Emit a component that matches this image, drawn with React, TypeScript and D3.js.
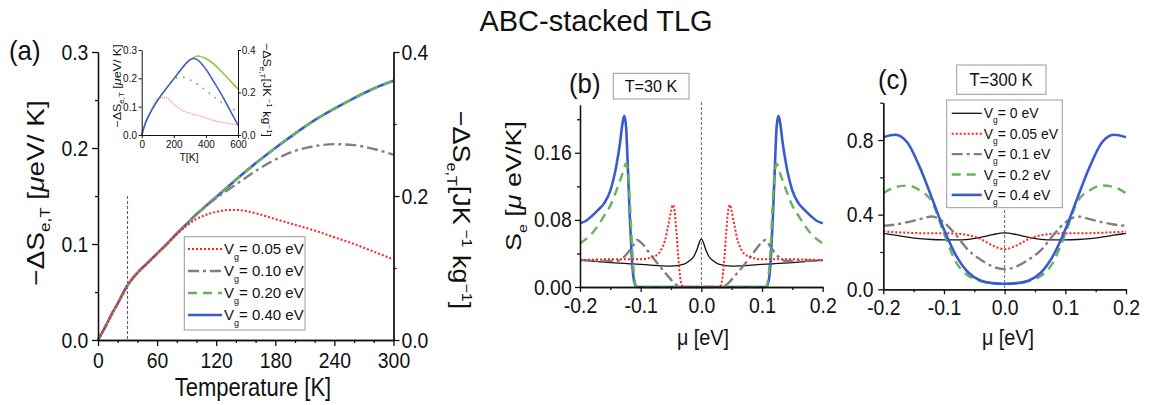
import React, { useEffect, useRef } from "react";
import * as d3 from "d3";

const FONT = "'Liberation Sans', Arial, Helvetica, sans-serif";

// ---------- panel (a): -dS_eT vs temperature
const tempK = [0, 3, 6, 10, 15, 20, 30, 40, 50, 60, 70, 80, 90, 100, 110, 120, 130, 140, 160, 180, 200, 220, 240, 260, 280, 300];
const aVg040 = [0, 0.0055, 0.011, 0.019, 0.029, 0.038, 0.057, 0.07, 0.08, 0.09, 0.1, 0.111, 0.121, 0.131, 0.14, 0.149, 0.158, 0.167, 0.184, 0.2, 0.215, 0.229, 0.241, 0.252, 0.262, 0.27];
const aVg020 = [0, 0.0055, 0.011, 0.019, 0.029, 0.038, 0.057, 0.07, 0.08, 0.09, 0.1, 0.111, 0.121, 0.131, 0.14, 0.149, 0.158, 0.167, 0.184, 0.2, 0.215, 0.229, 0.241, 0.252, 0.262, 0.27];
const aVg010 = [0, 0.0055, 0.011, 0.019, 0.029, 0.038, 0.057, 0.07, 0.08, 0.09, 0.1, 0.111, 0.121, 0.131, 0.14, 0.148, 0.155, 0.162, 0.176, 0.188, 0.197, 0.202, 0.204, 0.203, 0.199, 0.193];
const aVg005 = [0, 0.0055, 0.011, 0.019, 0.029, 0.038, 0.057, 0.07, 0.08, 0.09, 0.1, 0.11, 0.119, 0.126, 0.1305, 0.1335, 0.1352, 0.1355, 0.132, 0.126, 0.12, 0.114, 0.107, 0.1, 0.092, 0.084];
const aLegend = ["0.05", "0.10", "0.20", "0.40"];

// inset of (a), T up to 600 K
const insetT = [0, 25, 50, 100, 150, 200, 250, 300, 325, 350, 400, 450, 500, 550, 600];
const inBlue = [0, 0.045, 0.075, 0.123, 0.162, 0.198, 0.235, 0.265, 0.27, 0.264, 0.232, 0.187, 0.14, 0.088, 0.035];
const inGreen = [0, 0.045, 0.075, 0.123, 0.162, 0.198, 0.235, 0.265, 0.274, 0.279, 0.27, 0.25, 0.222, 0.192, 0.162];
const inGray = [0, 0.045, 0.075, 0.123, 0.162, 0.198, 0.205, 0.195, 0.187, 0.178, 0.157, 0.135, 0.113, 0.097, 0.082];
const inRed = [0, 0.045, 0.075, 0.128, 0.132, 0.108, 0.088, 0.077, 0.073, 0.07, 0.06, 0.051, 0.045, 0.04, 0.035];

// ---------- panel (b): S_e vs mu at T=30 K  ([mu, S])
const bVg0 = [[-0.2, 0.032], [-0.15, 0.029], [-0.1, 0.027], [-0.05, 0.025], [-0.03, 0.027], [-0.02, 0.031], [-0.012, 0.037], [-0.006, 0.047], [-0.003, 0.054], [0, 0.057], [0.003, 0.054], [0.006, 0.047], [0.012, 0.037], [0.02, 0.031], [0.03, 0.027], [0.05, 0.025], [0.1, 0.027], [0.15, 0.029], [0.2, 0.032]];
const bVg005 = [[-0.2, 0.032], [-0.15, 0.033], [-0.1, 0.033], [-0.08, 0.036], [-0.07, 0.04], [-0.065, 0.046], [-0.06, 0.055], [-0.055, 0.072], [-0.05, 0.09], [-0.047, 0.098], [-0.044, 0.09], [-0.041, 0.065], [-0.038, 0.035], [-0.035, 0.012], [-0.032, 0.002], [-0.03, 0], [0.03, 0], [0.032, 0.002], [0.035, 0.012], [0.038, 0.035], [0.041, 0.065], [0.044, 0.09], [0.047, 0.098], [0.05, 0.09], [0.055, 0.072], [0.06, 0.055], [0.065, 0.046], [0.07, 0.04], [0.08, 0.036], [0.1, 0.033], [0.15, 0.033], [0.2, 0.032]];
const bVg01 = [[-0.2, 0.032], [-0.14, 0.031], [-0.13, 0.034], [-0.12, 0.042], [-0.112, 0.05], [-0.106, 0.056], [-0.098, 0.052], [-0.085, 0.04], [-0.07, 0.026], [-0.055, 0.013], [-0.045, 0.005], [-0.038, 0.001], [-0.035, 0], [0.035, 0], [0.038, 0.001], [0.045, 0.005], [0.055, 0.013], [0.07, 0.026], [0.085, 0.04], [0.098, 0.052], [0.106, 0.056], [0.112, 0.05], [0.12, 0.042], [0.13, 0.034], [0.14, 0.031], [0.2, 0.032]];
const bVg02 = [[-0.2, 0.052], [-0.18, 0.064], [-0.16, 0.085], [-0.15, 0.097], [-0.14, 0.115], [-0.13, 0.135], [-0.124, 0.147], [-0.12, 0.13], [-0.117, 0.09], [-0.114, 0.045], [-0.111, 0.015], [-0.108, 0.002], [-0.105, 0], [0.105, 0], [0.108, 0.002], [0.111, 0.015], [0.114, 0.045], [0.117, 0.09], [0.12, 0.13], [0.124, 0.147], [0.13, 0.135], [0.14, 0.115], [0.15, 0.097], [0.16, 0.085], [0.18, 0.064], [0.2, 0.052]];
const bVg04 = [[-0.2, 0.076], [-0.19, 0.079], [-0.18, 0.085], [-0.17, 0.092], [-0.16, 0.1], [-0.15, 0.115], [-0.14, 0.145], [-0.134, 0.172], [-0.13, 0.195], [-0.127, 0.204], [-0.124, 0.19], [-0.121, 0.14], [-0.118, 0.085], [-0.115, 0.04], [-0.112, 0.012], [-0.108, 0.001], [-0.105, 0], [0.105, 0], [0.108, 0.001], [0.112, 0.012], [0.115, 0.04], [0.118, 0.085], [0.121, 0.14], [0.124, 0.19], [0.127, 0.204], [0.13, 0.195], [0.134, 0.172], [0.14, 0.145], [0.15, 0.115], [0.16, 0.1], [0.17, 0.092], [0.18, 0.085], [0.19, 0.079], [0.2, 0.076]];

// ---------- panel (c): S_e vs mu at T=300 K
const cMu = [-0.2, -0.18, -0.16, -0.14, -0.12, -0.1, -0.08, -0.06, -0.04, -0.02, 0, 0.02, 0.04, 0.06, 0.08, 0.1, 0.12, 0.14, 0.16, 0.18, 0.2];
const cVg0 = [0.3, 0.29, 0.28, 0.272, 0.267, 0.265, 0.265, 0.268, 0.278, 0.293, 0.302, 0.293, 0.278, 0.268, 0.265, 0.265, 0.267, 0.272, 0.28, 0.29, 0.3];
const cVg005 = [0.31, 0.306, 0.303, 0.301, 0.3, 0.3, 0.298, 0.29, 0.27, 0.235, 0.215, 0.235, 0.27, 0.29, 0.298, 0.3, 0.3, 0.301, 0.303, 0.306, 0.31];
const cVg01 = [0.34, 0.347, 0.36, 0.376, 0.39, 0.358, 0.29, 0.21, 0.16, 0.123, 0.108, 0.123, 0.16, 0.21, 0.29, 0.358, 0.39, 0.376, 0.36, 0.347, 0.34];
const cVg02 = [0.515, 0.548, 0.556, 0.53, 0.47, 0.3, 0.145, 0.072, 0.045, 0.032, 0.028, 0.032, 0.045, 0.072, 0.145, 0.3, 0.47, 0.53, 0.556, 0.548, 0.515];
const cVg04 = [0.815, 0.828, 0.785, 0.655, 0.49, 0.32, 0.18, 0.09, 0.047, 0.033, 0.03, 0.033, 0.047, 0.09, 0.18, 0.32, 0.49, 0.655, 0.785, 0.828, 0.815];
const cLegend = ["0", "0.05", "0.1", "0.2", "0.4"];

// line styles
const BLACK = { color: "#111", dash: "", width: 1.3 };
const RED = { color: "#ff2020", dash: "2,2", width: 2 };
const GRAY = { color: "#808080", dash: "11,4,3,4", width: 2.4 };
const GREEN = { color: "#66b35a", dash: "9,6", width: 2.4 };
const BLUE = { color: "#3a5bd0", dash: "", width: 2.6 };

type Sty = { color: string; dash: string; width: number };

function Axis(p: any) {
  const ref = useRef<SVGGElement>(null);
  useEffect(() => {
    const g = d3.select(ref.current as SVGGElement);
    g.selectAll("*").remove();
    const make = p.orient === "left" ? d3.axisLeft : p.orient === "right" ? d3.axisRight : d3.axisBottom;
    if (p.minor) {
      g.append("g").call(make(p.scale).tickValues(p.minor).tickSize(p.minorTick ?? 3).tickSizeOuter(0).tickFormat(() => "") as any);
    }
    const m = g.append("g").call(
      make(p.scale).tickValues(p.major).tickSize(p.tick ?? 6).tickSizeOuter(0).tickPadding(p.pad ?? 3)
        .tickFormat(p.fmt ?? ((d: any) => String(d))) as any
    );
    g.selectAll("g").attr("font-family", FONT).attr("font-size", p.size ?? 22);
    m.selectAll("text").attr("fill", "#111").attr("transform", `scale(${p.sx ?? 1},1)`);
    g.selectAll("path,line").attr("stroke", "#111").attr("stroke-width", p.sw ?? 1.3);
  });
  return <g ref={ref} transform={`translate(${p.x ?? 0},${p.y ?? 0})`} />;
}

function Curve({ pts, xs, ys, sty }: { pts: number[][]; xs: any; ys: any; sty: Sty }) {
  const line = d3.line<number[]>().x((d) => xs(d[0])).y((d) => ys(d[1])).curve(d3.curveMonotoneX);
  return <path d={line(pts) || ""} fill="none" stroke={sty.color} strokeWidth={sty.width} strokeDasharray={sty.dash || undefined} />;
}

function Sq({ x, y, sx = 0.88, rot = 0, size, anchor = "start", children }: any) {
  return (
    <g transform={`translate(${x},${y}) scale(${sx},1) rotate(${rot})`}>
      <text textAnchor={anchor} fontSize={size} fontFamily={FONT} fill="#111">{children}</text>
    </g>
  );
}

function LegendRow({ x, y, sty, label, size, len }: any) {
  return (
    <g>
      <line x1={x} x2={x + len} y1={y} y2={y} stroke={sty.color} strokeWidth={sty.width} strokeDasharray={sty.dash || undefined} />
      <text x={x + len + 2} y={y + size * 0.36} fontSize={size} fontFamily={FONT} fill="#111">
        V<tspan dy={size * 0.35} fontSize={size * 0.6}>g</tspan><tspan dy={-size * 0.35}>= {label} eV</tspan>
      </text>
    </g>
  );
}

// plain hyphen for negatives, as in the figure
const f1 = (d: number) => d3.format(".1f")(d).replace("−", "-");
const f2 = (d: number) => d3.format(".2f")(d).replace("−", "-");

export default function App() {
  // panel (a) scales
  const ax = d3.scaleLinear().domain([0, 300]).range([98, 393.5]);
  const ayL = d3.scaleLinear().domain([0, 0.3]).range([340, 52]);
  const ayR = d3.scaleLinear().domain([0, 0.4]).range([340, 52]);
  // inset scales
  const ix = d3.scaleLinear().domain([0, 600]).range([141.7, 238]);
  const iyL = d3.scaleLinear().domain([0, 0.3]).range([135, 50]);
  const iyR = d3.scaleLinear().domain([0, 0.4]).range([135, 50]);
  // panel (b)
  const bx = d3.scaleLinear().domain([-0.2, 0.2]).range([580, 822.7]);
  const by = d3.scaleLinear().domain([0, 0.217]).range([287, 105]);
  // panel (c)
  const cx = d3.scaleLinear().domain([-0.2, 0.2]).range([883.3, 1126]);
  const cy = d3.scaleLinear().domain([0, 1.0]).range([289.3, 102.7]);

  const zipA = (v: number[]) => tempK.map((t, i) => [t, v[i]]);
  const zipI = (v: number[]) => insetT.map((t, i) => [t, v[i]]);
  const zipC = (v: number[]) => cMu.map((m, i) => [m, v[i]]);

  const aStyles = [RED, GRAY, GREEN, BLUE];
  const cStyles = [BLACK, RED, GRAY, GREEN, BLUE];

  return (
    <svg width={1155} height={405} style={{ position: "absolute", left: 0, top: 0, background: "#fff" }} fontFamily={FONT}>
      <rect width={1155} height={405} fill="#fff" />
      <text x={596} y={31} textAnchor="middle" fontSize={29} fill="#111">ABC-stacked TLG</text>

      {/* ---------------- panel (a) ---------------- */}
      <Sq x={9} y={60} size={28} sx={0.92}>(a)</Sq>
      <line x1={ax(30)} x2={ax(30)} y1={ayL(0.15)} y2={ayL(0)} stroke="#555" strokeWidth={1} strokeDasharray="3,2" />
      <Curve pts={zipA(aVg040)} xs={ax} ys={ayL} sty={BLUE} />
      <Curve pts={zipA(aVg020)} xs={ax} ys={ayL} sty={GREEN} />
      <Curve pts={zipA(aVg010)} xs={ax} ys={ayL} sty={GRAY} />
      <Curve pts={zipA(aVg005)} xs={ax} ys={ayL} sty={RED} />
      <Axis scale={ax} orient="bottom" y={340} major={[0, 60, 120, 180, 240, 300]} minor={[20, 40, 80, 100, 140, 160, 200, 220, 260, 280]} tick={6} pad={6} size={22} sx={0.88} />
      <Axis scale={ayL} orient="left" x={98} major={[0, 0.1, 0.2, 0.3]} minor={[0.05, 0.15, 0.25]} fmt={f1} tick={6} pad={5} size={22} sx={0.88} />
      <Axis scale={ayR} orient="right" x={393.5} major={[0, 0.2, 0.4]} minor={[0.1, 0.3]} fmt={f1} tick={6} pad={3} size={22} sx={0.88} />
      <Sq x={253} y={396} size={25} anchor="middle">Temperature [K]</Sq>
      <Sq x={44} y={193} size={28} sx={0.85} rot={-90} anchor="middle">
        −ΔS<tspan dy={7} fontSize={17}>e,T</tspan><tspan dy={-7}> [</tspan><tspan fontStyle="italic">μ</tspan>eV/ K]
      </Sq>
      <Sq x={453} y={210} size={27} sx={0.88} rot={90} anchor="middle">
        −ΔS<tspan dy={7} fontSize={16}>e,T</tspan><tspan dy={-7}>[JK</tspan><tspan dy={-10} fontSize={16}> −1</tspan><tspan dy={10}> kg</tspan><tspan dy={-10} fontSize={16}>−1</tspan><tspan dy={10}>]</tspan>
      </Sq>

      {/* legend (a) */}
      <rect x={184.3} y={236.7} width={120.7} height={93.3} fill="#fff" stroke="#999" strokeWidth={1} />
      {aLegend.map((lab, i) => (
        <LegendRow key={lab} x={188} y={249 + i * 22} sty={aStyles[i]} label={lab} size={15} len={34} />
      ))}

      {/* inset */}
      <Curve pts={zipI(inRed)} xs={ix} ys={iyL} sty={{ color: "#ff7b7b", dash: "1,1.2", width: 1.3 }} />
      <Curve pts={zipI(inGray)} xs={ix} ys={iyL} sty={{ color: "#888", dash: "1.5,6", width: 1.6 }} />
      <Curve pts={zipI(inGreen)} xs={ix} ys={iyL} sty={{ color: "#8cc43a", dash: "", width: 1.5 }} />
      <Curve pts={zipI(inBlue)} xs={ix} ys={iyL} sty={{ color: "#3a5bd0", dash: "", width: 1.5 }} />
      <Axis scale={ix} orient="bottom" y={135} major={[0, 200, 400, 600]} tick={3} pad={3} size={10.5} sx={0.95} sw={1} />
      <Axis scale={iyL} orient="left" x={141.7} major={[0, 0.1, 0.2, 0.3]} fmt={f1} tick={3} pad={2} size={10.5} sx={0.95} sw={1} />
      <Axis scale={iyR} orient="right" x={238} major={[0, 0.2, 0.4]} fmt={f1} tick={3} pad={1} size={10.5} sx={0.95} sw={1} />
      <Sq x={189} y={161} size={11} sx={0.95} anchor="middle">T[K]</Sq>
      <Sq x={121} y={86} size={12.5} sx={0.9} rot={-90} anchor="middle">
        −ΔS<tspan dy={3} fontSize={8}>e,T</tspan><tspan dy={-3}> [</tspan><tspan fontStyle="italic">μ</tspan>eV/ K]
      </Sq>
      <Sq x={263} y={90} size={12.5} sx={0.9} rot={90} anchor="middle">
        −ΔS<tspan dy={3} fontSize={8}>e,T</tspan><tspan dy={-3}>[JK</tspan><tspan dy={-5} fontSize={8}> −1</tspan><tspan dy={5}> kg</tspan><tspan dy={-5} fontSize={8}>−1</tspan><tspan dy={5}>]</tspan>
      </Sq>

      {/* ---------------- panel (b) ---------------- */}
      <Sq x={569} y={93} size={28} sx={0.92}>(b)</Sq>
      <rect x={613.3} y={73.3} width={75.7} height={25.7} fill="#fff" stroke="#999" strokeWidth={1} />
      <Sq x={651} y={92} size={17} sx={0.95} anchor="middle">T=30 K</Sq>
      <line x1={bx(0)} x2={bx(0)} y1={102} y2={287} stroke="#555" strokeWidth={0.9} strokeDasharray="3,2" />
      <Curve pts={bVg0} xs={bx} ys={by} sty={BLACK} />
      <Curve pts={bVg04} xs={bx} ys={by} sty={BLUE} />
      <Curve pts={bVg02} xs={bx} ys={by} sty={GREEN} />
      <Curve pts={bVg01} xs={bx} ys={by} sty={GRAY} />
      <Curve pts={bVg005} xs={bx} ys={by} sty={RED} />
      <Axis scale={bx} orient="bottom" y={287} major={[-0.2, -0.1, 0, 0.1, 0.2]} minor={[-0.15, -0.05, 0.05, 0.15]} fmt={f1} tick={5} pad={5} size={22} sx={0.88} />
      <Axis scale={by} orient="left" x={580} major={[0, 0.08, 0.16]} minor={[0.04, 0.12, 0.2]} fmt={f2} tick={5} pad={4.5} size={22} sx={0.88} />
      <Sq x={703} y={345} size={22} sx={0.9} anchor="middle">μ [eV]</Sq>
      <Sq x={521} y={186} size={27} sx={0.85} rot={-90} anchor="middle">
        S<tspan dy={7} fontSize={16}>e</tspan><tspan dy={-7}> [</tspan><tspan fontStyle="italic">μ</tspan> eV/K]
      </Sq>

      {/* ---------------- panel (c) ---------------- */}
      <Sq x={878} y={89} size={28} sx={0.92}>(c)</Sq>
      <rect x={956.7} y={65} width={89.3} height={29.3} fill="#fff" stroke="#999" strokeWidth={1} />
      <Sq x={1001} y={86} size={17.5} sx={0.95} anchor="middle">T=300 K</Sq>
      <line x1={cx(0)} x2={cx(0)} y1={205} y2={289.3} stroke="#555" strokeWidth={0.9} strokeDasharray="3,2" />
      <Curve pts={zipC(cVg0)} xs={cx} ys={cy} sty={BLACK} />
      <Curve pts={zipC(cVg005)} xs={cx} ys={cy} sty={RED} />
      <Curve pts={zipC(cVg01)} xs={cx} ys={cy} sty={GRAY} />
      <Curve pts={zipC(cVg02)} xs={cx} ys={cy} sty={GREEN} />
      <Curve pts={zipC(cVg04)} xs={cx} ys={cy} sty={BLUE} />
      <Axis scale={cx} orient="bottom" y={289.3} major={[-0.2, -0.1, 0, 0.1, 0.2]} minor={[-0.15, -0.05, 0.05, 0.15]} fmt={f1} tick={5} pad={5} size={22} sx={0.88} />
      <Axis scale={cy} orient="left" x={883.3} major={[0, 0.4, 0.8]} minor={[0.2, 0.6, 1.0]} fmt={f1} tick={5} pad={6} size={22} sx={0.88} />
      <Sq x={1008} y={345} size={22} sx={0.9} anchor="middle">μ [eV]</Sq>

      {/* legend (c) */}
      <rect x={946.7} y={100} width={115.6} height={107.7} fill="#fff" stroke="#999" strokeWidth={1} />
      {cLegend.map((lab, i) => (
        <LegendRow key={lab} x={951.7} y={113.3 + i * 20.4} sty={cStyles[i]} label={lab} size={14} len={30} />
      ))}
    </svg>
  );
}
